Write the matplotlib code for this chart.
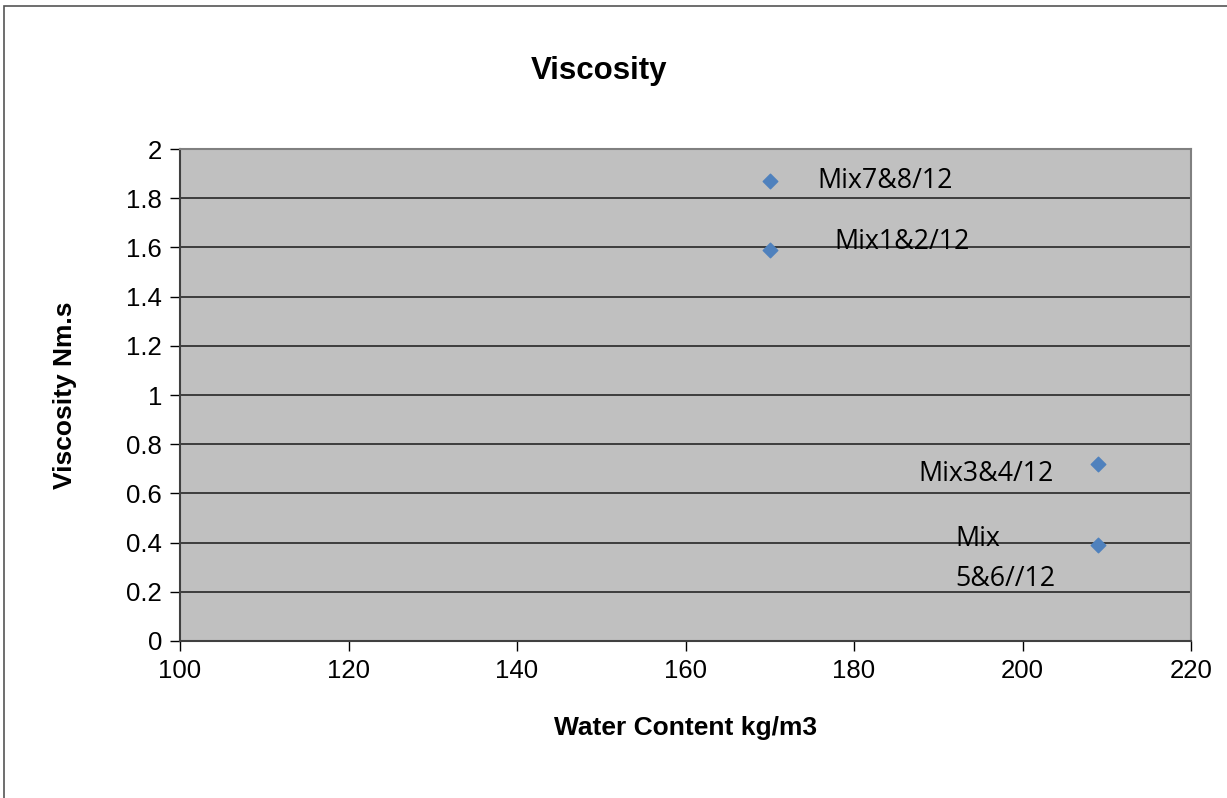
import matplotlib
matplotlib.use("Agg")
import matplotlib.pyplot as plt
from matplotlib.patches import Rectangle

# data
water = [170, 170, 209, 209]
viscosity = [1.87, 1.59, 0.72, 0.39]
labels = ["Mix7&8/12", "Mix1&2/12", "Mix3&4/12", "Mix\n5&6//12"]
# label offsets in pixels (dx, dy) and alignment
label_pos = [(48, 0, "left", "center"), (65, 8, "left", "center"),
             (-45, -10, "right", "center"), (-143, -14, "left", "center")]

xticks = [100, 120, 140, 160, 180, 200, 220]
yticks = [0, 0.2, 0.4, 0.6, 0.8, 1, 1.2, 1.4, 1.6, 1.8, 2]

plt.rcParams["font.family"] = ["Liberation Sans", "DejaVu Sans"]

fig = plt.figure(figsize=(12.27, 7.98), dpi=100)
ax = fig.add_axes([180 / 1227, 1 - 641 / 798, 1011 / 1227, 492 / 798])

# outer chart frame (only left/top visible in the reference)
fig.patches.append(Rectangle((4 / 1227, -0.05), 1.2, 1 - 6 / 798 + 0.05,
                             transform=fig.transFigure, fill=False,
                             edgecolor="#555555", linewidth=1.2))

ax.set_facecolor("#c0c0c0")
ax.scatter(water, viscosity, marker="D", s=55, color="#4f81bd", zorder=3)

for x, y, lab, (dx, dy, ha, va) in zip(water, viscosity, labels, label_pos):
    ax.annotate(lab, (x, y), xytext=(dx, dy), textcoords="offset pixels",
                ha=ha, va=va, fontsize=19.3, family=["Open Sans", "DejaVu Sans"],
                linespacing=1.55, zorder=4)

ax.set_xlim(100, 220)
ax.set_ylim(0, 2)
ax.set_xticks(xticks)
ax.set_yticks(yticks)
ax.set_yticklabels([f"{v:g}" for v in yticks])
ax.yaxis.grid(True, color="#1a1a1a", linewidth=1.1)
ax.set_axisbelow(True)
ax.tick_params(direction="out", length=7, width=1, labelsize=18.5, pad=6)

for side in ["top", "right"]:
    ax.spines[side].set_color("#808080")
    ax.spines[side].set_linewidth(1.5)
for side in ["left", "bottom"]:
    ax.spines[side].set_color("#404040")
    ax.spines[side].set_linewidth(1.5)

ax.set_xlabel("Water Content kg/m3", fontsize=19, fontweight="bold", labelpad=24)
ax.set_ylabel("Viscosity Nm.s", fontsize=19, fontweight="bold", labelpad=35)
fig.text(599 / 1227, 1 - 71 / 798, "Viscosity", fontsize=22.5, fontweight="bold",
         ha="center", va="center")

fig.savefig("out.png", dpi=100)
